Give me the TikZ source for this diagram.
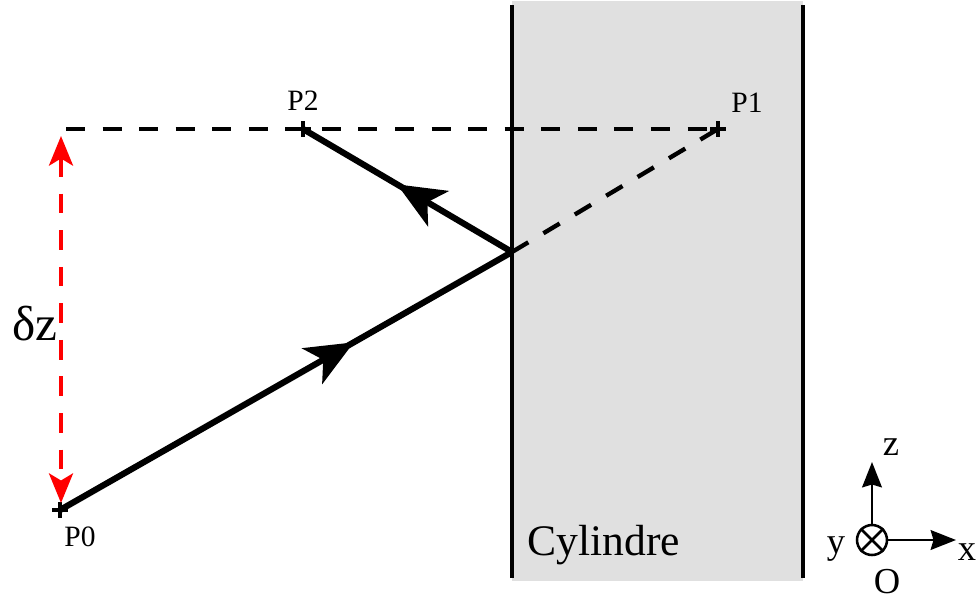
\documentclass[tikz,border=0pt]{standalone}
\usepackage{fontspec}
\setmainfont{Liberation Serif}
\usetikzlibrary{arrows.meta,decorations.markings,positioning,calc}
\definecolor{cylgray}{RGB}{224,224,224}
\tikzset{
  ray/.style={line width=4.4pt},
  wall/.style={line width=3.2pt},
  hidden/.style={line width=3.1pt, dash pattern=on 13.5pt off 12.5pt},
  plusmark/.style={line width=2.8pt},
  axis/.style={line width=1.8pt, -{Stealth[length=18pt,width=14pt,inset=2pt]}},
  midarrow/.style={postaction={decorate},
    decoration={markings,mark=at position #1 with {\arrow{Stealth[length=34pt,width=29pt,inset=9pt]}}}},
  lbl/.style={inner sep=0pt, font=\fontsize{21}{23}\selectfont},
  axlbl/.style={inner sep=0pt, font=\fontsize{26}{28}\selectfont}
}

\begin{document}
\begin{tikzpicture}[x=0.025cm, y=-0.025cm]
    \useasboundingbox (0,0) rectangle (978,601);
    % cylindre
    \fill[cylgray] (512,1) rectangle (803,581);
    \draw[wall] (512,5) -- (512,578);
    \draw[wall] (803,5) -- (803,578);
    \node[inner sep=0pt, font=\fontsize{31}{34}\selectfont] (cyl) at (604,545) {Cylindre};
    % points
    \coordinate (P0) at (60,510);
    \coordinate (P1) at (718,129);
    \coordinate (P2) at (303,129);
    \coordinate (R) at (512,252);
    \coordinate (H) at (66,129);
    \draw[plusmark] (P0) +(-8,0) -- +(8,0) +(0,-8) -- +(0,8);
    \draw[plusmark] (P1) +(-8,0) -- +(8,0) +(0,-8) -- +(0,8);
    \draw[plusmark] (P2) +(-8,0) -- +(8,0) +(0,-8) -- +(0,8);
    \node[lbl] (lP0) at (80,537) {P0};
    \node[lbl] (lP1) at (747,103) {P1};
    \node[lbl] (lP2) at (303,101) {P2};
    % rayons
    \draw[hidden] (H) -- (P1);
    \draw[hidden] (R) -- (P1);
    \draw[ray, midarrow=0.65] (P0) -- (R);
    \draw[ray, midarrow=0.55] (R) -- (P2);
    % delta z
    \coordinate (dzt) at (61,136);
    \coordinate (dzb) at (61,503);
    \draw[red, line width=3pt, dash pattern=on 14pt off 12pt,
      {Stealth[length=21pt,width=17pt,inset=5pt]}-{Stealth[length=21pt,width=17pt,inset=5pt]}] (dzt) -- (dzb);
    \node[inner sep=0pt, font=\fontsize{35}{38}\selectfont] (dz) at (35,324) {δz};
    % repere
    \node[circle, draw, line width=1.8pt, inner sep=0pt, minimum size=0.75cm] (orig) at (872,540) {};
    \draw[line width=1.8pt] (orig.north east) -- (orig.south west);
    \draw[line width=1.8pt] (orig.north west) -- (orig.south east);
    \coordinate (ztip) at (872,462);
    \coordinate (xtip) at (956,540);
    \draw[axis] (orig.north) -- (ztip);
    \draw[axis] (orig.east) -- (xtip);
    \node[axlbl] (lz) at (891,447) {z};
    \node[axlbl] (lx) at (967,552) {x};
    \node[axlbl] (ly) at (836,549) {y};
    \node[axlbl] (lO) at (887,582) {O};
\end{tikzpicture}
\end{document}
